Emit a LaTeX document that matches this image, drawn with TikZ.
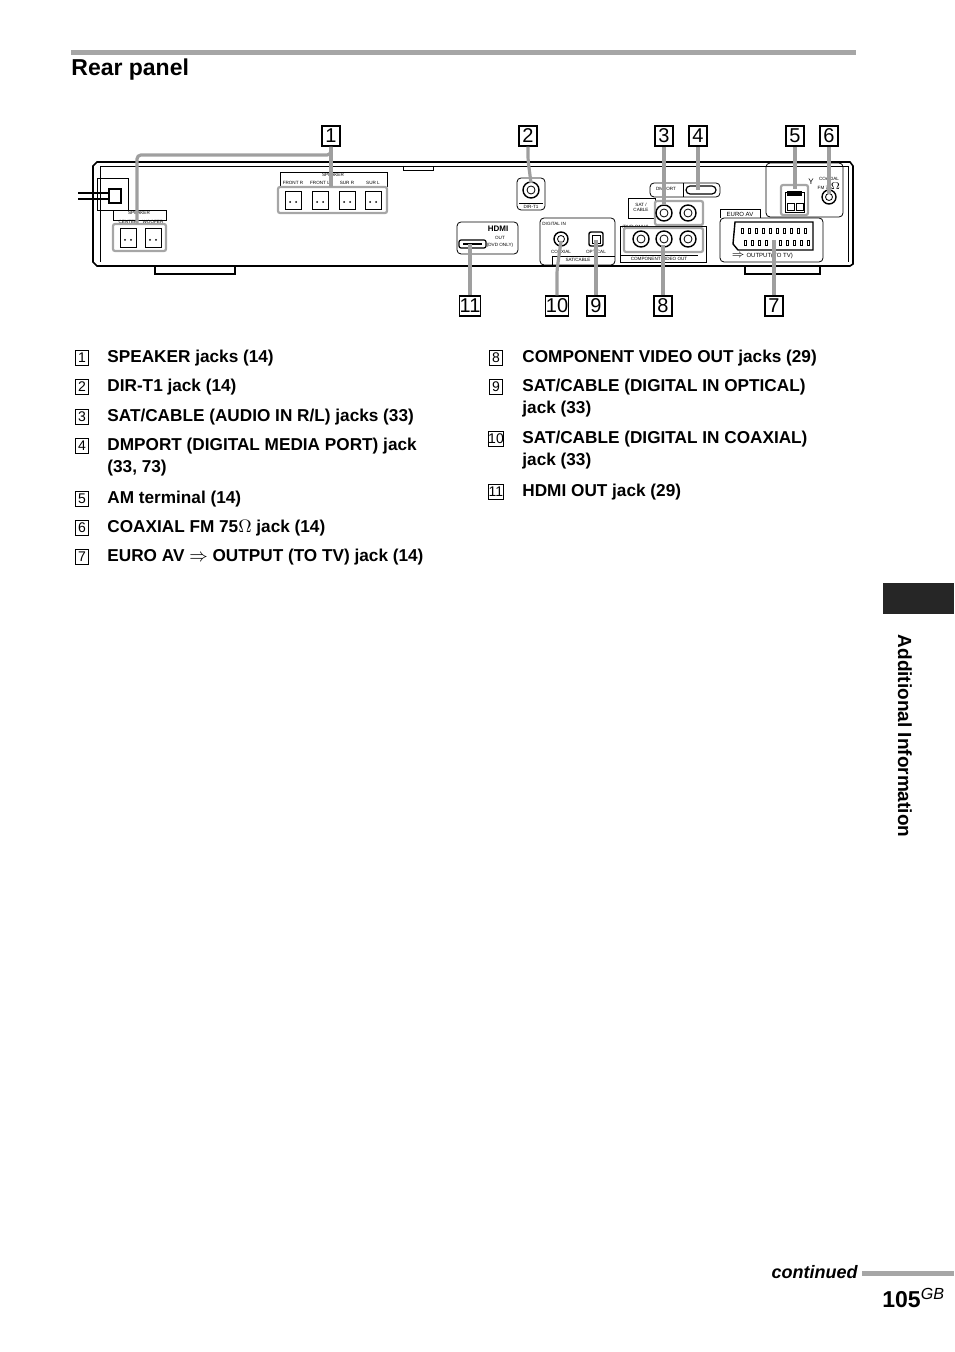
\documentclass[tikz,border=0pt]{standalone}
\usepackage{fontspec}
\setmainfont{Liberation Sans}
\begin{document}
\begin{tikzpicture}[x=0.5pt,y=-0.5pt,
 call/.style={draw,line width=0.6pt,minimum width=9pt,minimum height=10pt,inner sep=0pt,font=\fontsize{10}{10}\selectfont},
 num/.style={draw,line width=0.45pt,minimum width=6.5pt,minimum height=7.5pt,inner sep=0pt,font=\fontsize{7}{7}\selectfont},
 item/.style={anchor=west,font=\bfseries\fontsize{8.6}{11}\selectfont,align=left,inner sep=0pt},
 lead/.style={draw=gray!75,line width=1.6pt,rounded corners=2pt},
 grp/.style={draw=gray!70,line width=1.1pt,rounded corners=1pt},
 tiny/.style={font=\fontsize{2.3}{2.5}\selectfont,inner sep=0pt},
 pl/.style={line width=0.4pt},
 jack/.style={draw,line width=0.4pt}]
\useasboundingbox (0,0) rectangle (954,1352);
% top rule and title
\draw[gray!70,line width=2.5pt] (71,53) -- (856,53);
\node[anchor=south west,inner sep=0pt,font=\bfseries\fontsize{11.5}{12}\selectfont] (title) at (71,81) {Rear panel};
% panel body
\draw[line width=0.8pt] (97,162) -- (850,162) -- (853,166) -- (853,264) -- (850,266) -- (97,266) -- (93,262) -- (93,166) -- cycle;
\draw[pl] (100,166) -- (848,166) -- (848,262);
\draw[pl] (100,166) -- (100,262);
\draw[pl] (403,166) -- (403,170) -- (433,170) -- (433,166);
\draw[line width=0.7pt] (155,266) -- (155,274) -- (235,274) -- (235,266);
\draw[line width=0.7pt] (745,266) -- (745,274) -- (820,274) -- (820,266);
% cable
\draw[pl] (97,178) rectangle (128,210);
\draw[line width=0.7pt] (78,193) -- (110,193);
\draw[line width=0.7pt] (78,199) -- (110,199);
\draw[line width=0.7pt] (109,189) rectangle (121,203);
% left speaker
\draw[pl] (113,210) rectangle (166,220);
\node[tiny] (spl) at (139,213) {SPEAKER};
\node[tiny] at (128,222) {CENTER};
\node[tiny] at (153,222) {WOOFER};
\draw[grp] (113,224) rectangle (166,251);
\foreach \x in {128,153}{\draw[jack] (\x-8,228) -- (\x+8,228) -- (\x+8,247) -- (\x-8,247) -- cycle; \fill (\x-3,240) circle (1); \fill (\x+3,240) circle (1);}
% top speaker
\draw[pl] (280,187) -- (280,172) -- (387,172) -- (387,187);
\node[tiny] (spt) at (333,175) {SPEAKER};
\foreach \x/\t in {293/FRONT R,320/FRONT L,347/SUR R,373/SUR L}{\node[tiny] at (\x,183) {\t};}
\draw[grp] (278,187) rectangle (387,213);
\foreach \x in {293,320,347,373}{\draw[jack] (\x-8,191) -- (\x+8,191) -- (\x+8,209) -- (\x-8,209) -- cycle; \fill (\x-3,202) circle (1); \fill (\x+3,202) circle (1);}
% HDMI
\draw[pl,rounded corners=2pt] (457,222) rectangle (518,254);
\node[font=\bfseries\fontsize{4}{4}\selectfont,inner sep=0pt] (hdmi) at (498,229) {HDMI};
\node[tiny] at (500,238) {OUT};
\node[tiny] at (500,245) {(DVD ONLY)};
\draw[line width=0.6pt,rounded corners=1pt] (459,240) rectangle (486,248);
\draw[line width=0.9pt] (463,244) -- (482,244);
% DIR-T1
\draw[pl,rounded corners=2pt] (517,178) rectangle (545,210);
\draw[line width=0.7pt] (531,190) circle (8);
\draw[pl] (531,190) circle (4);
\draw[pl] (519,203) -- (543,203);
\node[tiny] at (531,207) {DIR-T1};
% digital in
\draw[pl,rounded corners=2pt] (540,218) rectangle (615,265);
\node[tiny,anchor=west] at (542,224) {DIGITAL IN};
\draw[line width=0.7pt] (561,239) circle (7); \draw[pl] (561,239) circle (3.5);
\draw[line width=0.7pt,rounded corners=1pt] (589,232) rectangle (603,246); \draw[pl] (592,235) rectangle (600,243);
\node[tiny] at (561,252) {COAXIAL};
\node[tiny] at (596,252) {OPTICAL};
\draw[pl] (552,256) -- (552,265); \draw[pl] (552,256) -- (615,256);
\node[tiny] at (578,260) {SAT/CABLE};
% DMPORT
\draw[pl,rounded corners=2pt] (650,183) rectangle (720,197);
\draw[pl] (683,183) -- (683,197);
\node[tiny] at (666,189) {DMPORT};
\draw[line width=0.6pt,rounded corners=2pt] (686,186) rectangle (716,194);
% SAT/CABLE audio
\draw[pl] (628,198) rectangle (655,218);
\node[tiny,align=center] at (641,207) {SAT /\\CABLE};
\draw[grp] (655,201) rectangle (703,225);
\foreach \x in {664,688}{\draw[line width=0.7pt] (\x,213) circle (8); \draw[pl] (\x,213) circle (4);}
% component
\draw[pl] (620,226) rectangle (706,262);
\node[tiny,anchor=west] at (622,227) {(DVD ONLY)};
\draw[grp] (624,228) rectangle (703,252);
\foreach \x in {641,664,688}{\draw[line width=0.7pt] (\x,239) circle (8); \draw[pl] (\x,239) circle (4);}
\draw[pl] (620,255) -- (698,255);
\node[tiny] at (659,259) {COMPONENT VIDEO OUT};
% antenna area
\draw[pl,rounded corners=2pt] (766,163) rectangle (843,217);
\draw[grp] (781,185) rectangle (808,215);
\draw[pl] (785,192) rectangle (804,212);
\draw[pl] (787,203) rectangle (794,210); \draw[pl] (796,203) rectangle (803,210);
\fill (787,191) rectangle (802,196);
\node[font=\fontsize{4}{4}\selectfont,inner sep=0pt] at (811,182) {Y};
\node[tiny,align=center] at (829,183) {COAXIAL\\FM 75$\Omega$};
\draw[line width=0.7pt] (829,197) circle (7); \draw[pl] (829,197) circle (3.5);
% Euro AV
\draw[pl] (720,218) -- (720,209) -- (760,209) -- (760,218);
\node[tiny,font=\fontsize{3}{3}\selectfont] at (740,214) {EURO AV};
\draw[pl,rounded corners=2pt] (720,218) rectangle (823,262);
\draw[line width=0.7pt] (735,222) -- (813,222) -- (813,250) -- (738,250) -- (733,244) -- cycle;
\foreach \i in {0,...,9}{\draw[pl] (741+7*\i,228) rectangle (743+7*\i,233);\draw[pl] (744+7*\i,240) rectangle (746+7*\i,245);}
\node[tiny,font=\fontsize{3}{3}\selectfont] at (762,256) {$\Rightarrow$ OUTPUT(TO TV)};
% callouts top
\node[call] (c1) at (331,136) {1};
\node[call] (c2) at (528,136) {2};
\node[call] (c3) at (664,136) {3};
\node[call] (c4) at (698,136) {4};
\node[call] (c5) at (795,136) {5};
\node[call] (c6) at (829,136) {6};
\node[call] (c11) at (470,306) {11};
\node[call] (c10) at (557,306) {10};
\node[call] (c9) at (596,306) {9};
\node[call] (c8) at (663,306) {8};
\node[call] (c7) at (774,306) {7};
\coordinate (t1) at (331,187); \coordinate (t1b) at (137,224);
\draw[lead] (c1.south) -- (t1);
\draw[lead] (c1.south) -- (331,155) -- (137,155) -- (t1b);
\coordinate (t2) at (531,183); \draw[lead] (c2.south) -- (528,160) -- (t2);
\coordinate (t3) at (664,205); \draw[lead] (c3.south) -- (t3);
\coordinate (t4) at (698,190); \draw[lead] (c4.south) -- (t4);
\coordinate (t5) at (795,189); \draw[lead] (c5.south) -- (t5);
\coordinate (t6) at (829,194); \draw[lead] (c6.south) -- (t6);
\coordinate (t11) at (470,244); \draw[lead] (c11.north) -- (t11);
\coordinate (t10) at (561,241); \draw[lead] (c10.north) -- (557,270) -- (t10);
\coordinate (t9) at (596,240); \draw[lead] (c9.north) -- (t9);
\coordinate (t8) at (663,245); \draw[lead] (c8.north) -- (t8);
\coordinate (t7) at (774,240); \draw[lead] (c7.north) -- (t7);
% list left
\foreach \n/\y in {1/358,2/387,3/417,4/446,5/499,6/528,7/557}{\node[num] (n\n) at (82,\y) {\n};}
\node[item] (i1) at (107,358) {SPEAKER jacks (14)};
\node[item] (i2) at (107,387) {DIR-T1 jack (14)};
\node[item] (i3) at (107,417) {SAT/CABLE (AUDIO IN R/L) jacks (33)};
\node[item,anchor=north west] (i4) at (107,438) {DMPORT (DIGITAL MEDIA PORT) jack\\(33, 73)};
\node[item] (i5) at (107,499) {AM terminal (14)};
\node[item] (i6) at (107,528) {COAXIAL FM 75$\Omega$ jack (14)};
\node[item] (i7) at (107,557) {EURO AV {\fontsize{9}{9}\selectfont$\Rightarrow$} OUTPUT (TO TV) jack (14)};
\foreach \n/\y in {8/358,9/387,10/439,11/492}{\node[num] (n\n) at (496,\y) {\n};}
\node[item] (i8) at (522,358) {COMPONENT VIDEO OUT jacks (29)};
\node[item,anchor=north west] (i9) at (522,379) {SAT/CABLE (DIGITAL IN OPTICAL)\\jack (33)};
\node[item,anchor=north west] (i10) at (522,431) {SAT/CABLE (DIGITAL IN COAXIAL)\\jack (33)};
\node[item] (i11) at (522,492) {HDMI OUT jack (29)};
% sidebar
\fill[black!85] (883,583) rectangle (954,614);
\node[rotate=-90,font=\bfseries\fontsize{9.5}{10}\selectfont,inner sep=0pt] (side) at (905,736) {Additional Information};
% footer
\node[anchor=east,inner sep=0pt,font=\bfseries\itshape\fontsize{9}{9}\selectfont] (cont) at (858,1272) {continued};
\draw[gray!70,line width=2.5pt] (862,1273) -- (954,1273);
\node[anchor=west,inner sep=0pt,font=\bfseries\fontsize{11.5}{12}\selectfont] (pg) at (882,1298) {105\textsuperscript{\normalfont\itshape GB}};
\end{tikzpicture}
\end{document}
